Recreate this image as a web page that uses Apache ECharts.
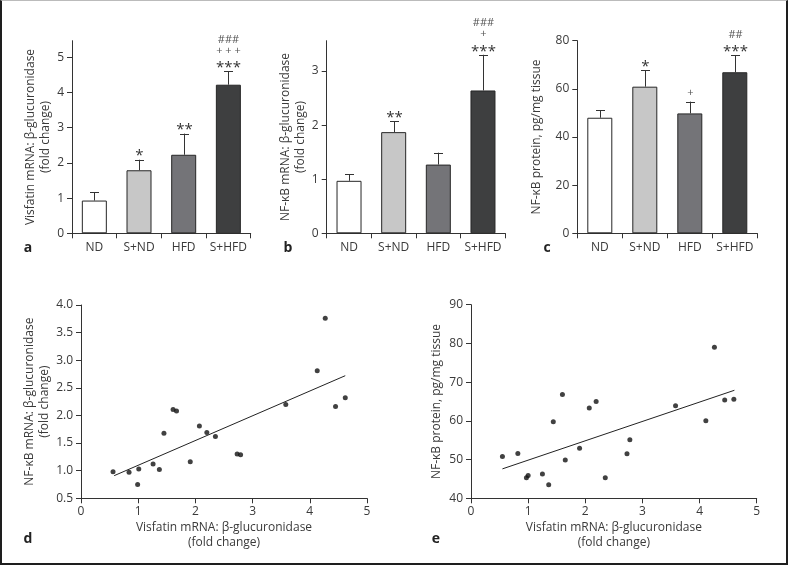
<!DOCTYPE html>
<html><head><meta charset="utf-8">
<script src="https://cdn.jsdelivr.net/npm/echarts@6/dist/echarts.min.js"></script>
<style>
html,body{margin:0;padding:0;background:#fff}
#c{width:788px;height:565px}
#f{position:absolute;left:0;top:0;width:788px;height:565px;box-sizing:border-box;border-left:2px solid #1e1e1e;border-right:2px solid #1e1e1e;border-bottom:2px solid #1e1e1e;border-top:1px solid #bbb;pointer-events:none}
</style>
</head><body><div id="c"></div><div id="f"></div>
<script>
// ---- data ----
const categories = ['ND', 'S+ND', 'HFD', 'S+HFD'];
const barColors = ['#ffffff', '#c7c7c7', '#747478', '#3e3f40'];

const aMean = [0.93, 1.79, 2.23, 4.22];
const aErr  = [1.16, 2.09, 2.83, 4.60];
const aAnno = [[], ['*'], ['**'], ['***', '+ + +', '###']];

const bMean = [0.97, 1.87, 1.27, 2.64];
const bErr  = [1.09, 2.07, 1.49, 3.30];
const bAnno = [[], ['**'], [], ['***', '+', '###']];

const cMean = [48.0, 60.9, 49.8, 66.9];
const cErr  = [51.1, 67.7, 54.7, 73.9];
const cAnno = [[], ['*'], ['+'], ['***', '##']];

const aTicks = [0, 1, 2, 3, 4, 5];
const bTicks = [0, 1, 2, 3];
const cTicks = [0, 20, 40, 60, 80];

const dX = [0.56, 0.84, 1.01, 0.99, 1.26, 1.37, 1.45, 1.61, 1.67, 1.91, 2.07, 2.20, 2.35, 2.73, 2.79, 3.58, 4.13, 4.27, 4.45, 4.62];
const dY = [0.98, 0.97, 1.03, 0.75, 1.12, 1.02, 1.68, 2.11, 2.08, 1.16, 1.81, 1.69, 1.62, 1.30, 1.29, 2.20, 2.81, 3.76, 2.16, 2.32];
const dFitX = [0.58, 4.62];
const dFitY = [0.91, 2.72];

const eX = [0.55, 0.82, 0.97, 1.00, 1.25, 1.36, 1.44, 1.60, 1.65, 1.90, 2.07, 2.19, 2.35, 2.73, 2.78, 3.58, 4.11, 4.26, 4.44, 4.60];
const eY = [50.8, 51.6, 45.3, 45.9, 46.3, 43.5, 59.8, 66.8, 49.9, 52.9, 63.3, 65.0, 45.3, 51.5, 55.1, 63.9, 60.0, 79.0, 65.4, 65.6];
const eFitX = [0.55, 4.61];
const eFitY = [47.6, 67.9];

// ---- styles ----
const FONT = 'Open Sans';
const TXT = '#3a3a3a';
const FS = 12;
const axLine = {lineStyle: {color: '#333', width: 1}};
const axLabel = {color: TXT, fontSize: FS, fontFamily: FONT};
const nameStyle = {color: TXT, fontSize: FS, fontFamily: FONT, lineHeight: 15};

function barX(gi) {
  return {type: 'category', gridIndex: gi, data: categories, boundaryGap: true,
    axisLine: axLine, axisTick: {show: true, alignWithLabel: false, length: 5, lineStyle: {color: '#333'}},
    axisLabel: Object.assign({margin: 8, interval: 0}, axLabel)};
}
function barY(gi, max, interval, ticks, name, gap) {
  return {type: 'value', gridIndex: gi, min: 0, max: max, interval: interval,
    splitLine: {show: false}, axisLine: Object.assign({show: true}, axLine),
    axisTick: {show: true, length: 5, lineStyle: {color: '#333'}, customValues: ticks},
    axisLabel: Object.assign({margin: 8, customValues: ticks}, axLabel),
    name: name, nameLocation: 'middle', nameGap: gap, nameTextStyle: nameStyle};
}
function barSeries(i, means) {
  return {type: 'bar', xAxisIndex: i, yAxisIndex: i, barWidth: 25, silent: true,
    data: means.map((v, k) => ({value: v, itemStyle: {color: barColors[k]}})),
    itemStyle: {borderColor: '#262626', borderWidth: 1}};
}
function errSeries(i, means, errs, annos) {
  return {type: 'custom', xAxisIndex: i, yAxisIndex: i, silent: true, z: 5,
    data: means.map((v, k) => [k, v, errs[k]]),
    renderItem: function (params, api) {
      const k = params.dataIndex;
      const base = api.coord([k, means[k]]);
      const top = api.coord([k, errs[k]]);
      const x = Math.round(base[0]) + 0.5;
      const children = [
        {type: 'line', shape: {x1: x, y1: base[1], x2: x, y2: top[1]}, style: {stroke: '#333', lineWidth: 1}},
        {type: 'line', shape: {x1: x - 4.5, y1: Math.round(top[1]) + 0.5, x2: x + 4.5, y2: Math.round(top[1]) + 0.5}, style: {stroke: '#333', lineWidth: 1}}
      ];
      let vis = top[1] - 7.5;
      annos[k].forEach(function (s, j) {
        if (j === 1) vis -= 12; else if (j === 2) vis -= 11;
        const star = s[0] === '*';
        children.push({type: 'text', x: x, y: vis + (star ? 4 : -1),
          style: {text: s, fill: star ? '#333' : '#555', fontSize: star ? 15 : 11, fontFamily: FONT,
            align: 'center', verticalAlign: 'middle'}});
      });
      return {type: 'group', children: children};
    }};
}
function scX(gi) {
  return {type: 'value', gridIndex: gi, min: 0, max: 5, interval: 1, splitLine: {show: false},
    axisLine: axLine, axisTick: {show: true, length: 5, lineStyle: {color: '#333'}},
    axisLabel: Object.assign({margin: 7}, axLabel),
    name: 'Visfatin mRNA: β-glucuronidase\n(fold change)', nameLocation: 'middle', nameGap: 22,
    nameTextStyle: nameStyle};
}
function scY(gi, min, max, interval, name, gap, fmt) {
  return {type: 'value', gridIndex: gi, min: min, max: max, interval: interval, splitLine: {show: false},
    axisLine: Object.assign({show: true}, axLine), axisTick: {show: true, length: 5, lineStyle: {color: '#333'}},
    axisLabel: Object.assign({margin: 8, formatter: fmt}, axLabel),
    name: name, nameLocation: 'middle', nameGap: gap, nameTextStyle: nameStyle};
}
function scatterSeries(i, xs, ys) {
  return {type: 'scatter', xAxisIndex: i, yAxisIndex: i, symbolSize: 5, silent: true,
    itemStyle: {color: '#111'}, data: xs.map((x, k) => [x, ys[k]])};
}
function fitSeries(i, xs, ys) {
  return {type: 'line', xAxisIndex: i, yAxisIndex: i, symbol: 'none', silent: true,
    lineStyle: {color: '#222', width: 1}, data: xs.map((x, k) => [x, ys[k]])};
}
function letter(t, x, y) {
  return {type: 'text', x: x, y: y, style: {text: t, fontSize: 14, fontWeight: 'bold', fontFamily: FONT, fill: '#222', align: 'center', verticalAlign: 'middle'}};
}

const option = {
  animation: false,
  backgroundColor: '#fff',
  grid: [
    {left: 72, top: 40.7, width: 178.7, height: 192.6, outerBoundsMode: 'none'},
    {left: 326.7, top: 40.7, width: 178.6, height: 192.6, outerBoundsMode: 'none'},
    {left: 577.3, top: 40.7, width: 180, height: 192.6, outerBoundsMode: 'none'},
    {left: 81, top: 305, width: 286, height: 193.3, outerBoundsMode: 'none'},
    {left: 471, top: 304.7, width: 285.7, height: 193.6, outerBoundsMode: 'none'}
  ],
  xAxis: [barX(0), barX(1), barX(2), scX(3), scX(4)],
  yAxis: [
    barY(0, 5.47, 1, aTicks, 'Visfatin mRNA: β-glucuronidase\n(fold change)', 18),
    barY(1, 3.56, 1, bTicks, 'NF-κB mRNA: β-glucuronidase\n(fold change)', 18),
    barY(2, 80, 20, cTicks, 'NF-κB protein, pg/mg tissue', 33),
    scY(3, 0.5, 4.0, 0.5, 'NF-κB mRNA: β-glucuronidase\n(fold change)', 26, v => v.toFixed(1)),
    scY(4, 40, 90, 10, 'NF-κB protein, pg/mg tissue', 27, v => String(v))
  ],
  series: [
    barSeries(0, aMean), errSeries(0, aMean, aErr, aAnno),
    barSeries(1, bMean), errSeries(1, bMean, bErr, bAnno),
    barSeries(2, cMean), errSeries(2, cMean, cErr, cAnno),
    scatterSeries(3, dX, dY), fitSeries(3, dFitX, dFitY),
    scatterSeries(4, eX, eY), fitSeries(4, eFitX, eFitY)
  ],
  graphic: [
    letter('a', 28, 248), letter('b', 288, 248), letter('c', 547, 248),
    letter('d', 28, 539), letter('e', 436, 539)
  ]
};
const chart = echarts.init(document.getElementById('c'), null, {renderer: 'canvas'});
chart.setOption(option);
</script>
</body></html>
